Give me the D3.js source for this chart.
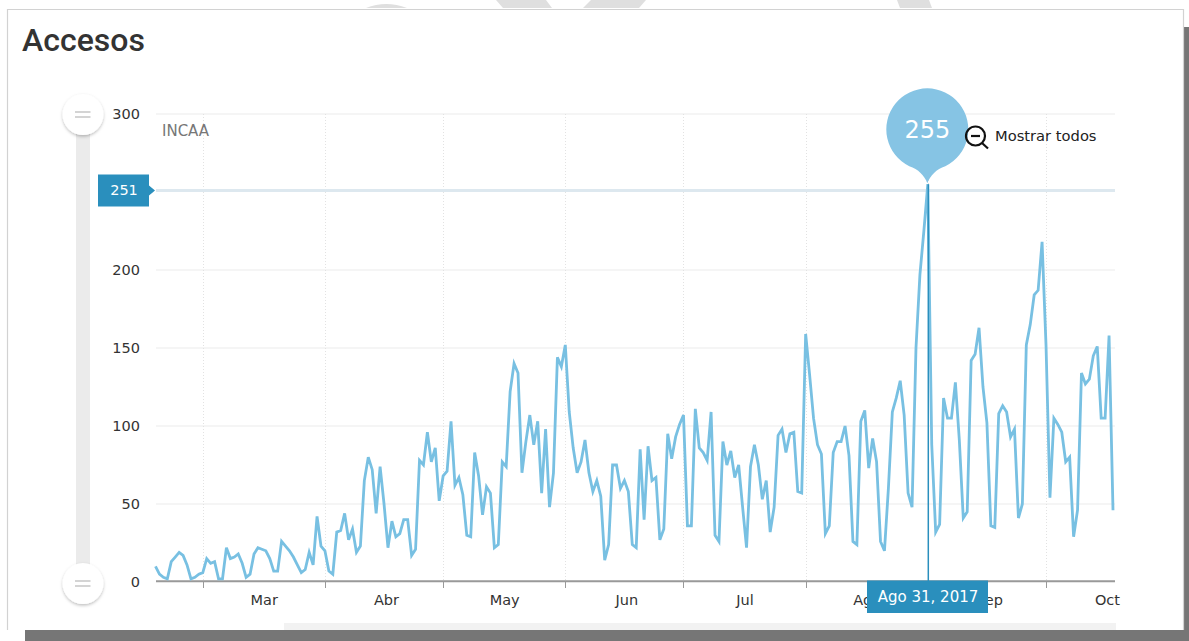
<!DOCTYPE html>
<html>
<head>
<meta charset="utf-8">
<title>Accesos</title>
<script src="https://cdn.jsdelivr.net/npm/d3@7"></script>
<style>
    html, body { margin: 0; padding: 0; background: #fff; overflow: hidden; }
    svg { display: block; }
    text { font-family: "DejaVu Sans", sans-serif; }
</style>
</head>
<body>
<script>
//daily values, first one is the evening of Feb 16 (local time of the source)
var accesos = [
    10,5,3,2,13,16,19,17,11,2,3,5,6,15,12,13,2,2,22,15,
    16,18,12,3,5,18,22,21,20,15,7,7,26,23,20,16,11,6,8,19,
    11,42,23,20,7,5,32,33,44,27,34,19,23,65,80,72,44,74,50,22,
    39,29,31,40,40,17,21,78,75,96,77,86,52,68,71,103,62,67,56,30,
    29,83,68,43,61,57,22,24,77,74,122,140,134,70,90,107,88,103,57,98,
    48,70,144,138,152,109,86,70,77,91,70,58,65,55,14,24,75,75,60,65,
    58,24,22,85,40,87,65,67,27,34,95,79,93,101,107,36,36,111,86,83,
    78,109,30,26,90,75,84,67,75,48,22,74,88,75,53,65,32,48,94,98,
    83,95,96,58,57,159,133,105,88,82,31,36,83,90,90,100,81,26,24,103,
    110,73,92,77,26,20,60,109,118,129,107,57,48,150,197,225,255,88,32,37,
    118,105,105,128,91,41,45,142,146,163,125,102,36,35,108,113,109,93,98,41,
    50,152,165,184,187,218,152,54,105,101,96,77,80,29,46,134,127,130,145,151,
    105,105,158,46
];
var monthLabels = ["Mar", "Abr", "May", "Jun", "Jul", "Ago", "Sep", "Oct"];
var shortMonths = ["Ene", "Feb", "Mar", "Abr", "May", "Jun", "Jul", "Ago", "Sep", "Oct", "Nov", "Dic"];
var yTicks = [0, 50, 100, 150, 200, 250, 300];
var yLabels = [0, 50, 100, 150, 200, 300];
var guideValue = 251;
var peakIndex = accesos.indexOf(d3.max(accesos));

//one date per value
var firstDay = new Date(2017, 1, 16, 21);
var days = accesos.map(function (d, i) {
    return d3.timeDay.offset(firstDay, i);
});

window.onload = function () {
    var w = 1189, h = 641;
    var left = 155.5, right = 1113, top = 114, bottom = 582;

    var container = d3.select("body")
        .append("svg")
        .attr("width", w)
        .attr("height", h);

    //scraps of the page behind the card, cut off at the top
    var scraps = [
        "M366,8 Q386,0 407,8 Z",
        "M496,0 L518,0 L546,0 L552,8 L503,8 Z",
        "M591,0 L646,0 L639,8 L583,8 Z",
        "M897,0 L929,0 L932,8 L900,8 Z"
    ];
    container.selectAll(".scrap")
        .data(scraps)
        .enter()
        .append("path")
        .attr("class", "scrap")
        .attr("d", function (d) { return d; })
        .style("fill", "#dfdfdf");

    //screenshot frame: dark bars right and bottom, card border
    container.append("rect")
        .attr("x", 1184).attr("y", 27)
        .attr("width", 5).attr("height", 614)
        .style("fill", "#767676");
    container.append("rect")
        .attr("x", 25).attr("y", 630)
        .attr("width", 1164).attr("height", 11)
        .style("fill", "#767676");
    container.append("path")
        .attr("d", "M7.5,630 V9.5 H1183.5 V630")
        .style("fill", "none")
        .style("stroke", "#d2d2d2")
        .style("stroke-width", 1.2);
    container.append("rect")
        .attr("x", 284).attr("y", 623)
        .attr("width", 832).attr("height", 7)
        .style("fill", "#f2f2f2");

    container.append("text")
        .attr("x", 22)
        .attr("y", 51)
        .style("font-family", "Roboto")
        .style("font-size", "32px")
        .style("font-weight", 500)
        .style("fill", "#333")
        .text("Accesos");

    //scales
    var x = d3.scaleTime()
        .range([left, right])
        .domain([days[0], days[days.length - 1]]);
    var y = d3.scaleLinear()
        .range([bottom, top])
        .domain([0, 300]);

    //grid, 250 has no line of its own in the picture
    var months = d3.timeMonth.range(days[0], days[days.length - 1]);
    container.selectAll(".hgrid")
        .data(yTicks.filter(function (d) { return d > 0 && d !== 250; }))
        .enter()
        .append("line")
        .attr("class", "hgrid")
        .attr("x1", 156).attr("x2", 1115)
        .attr("y1", function (d) { return y(d); })
        .attr("y2", function (d) { return y(d); })
        .style("stroke", "#ececec")
        .style("stroke-width", 1.2);
    container.selectAll(".vgrid")
        .data(months)
        .enter()
        .append("line")
        .attr("class", "vgrid")
        .attr("x1", function (d) { return Math.floor(x(d)) + 0.5; })
        .attr("x2", function (d) { return Math.floor(x(d)) + 0.5; })
        .attr("y1", top).attr("y2", bottom)
        .style("stroke", "#e2e2e2")
        .style("stroke-dasharray", "1,2");

    //slider on the left
    container.append("rect")
        .attr("x", 76).attr("y", top)
        .attr("width", 14).attr("height", bottom - top)
        .style("fill", "#ebebeb");

    var shadow = container.append("defs").append("filter")
        .attr("id", "handleShadow")
        .attr("x", "-30%").attr("y", "-30%")
        .attr("width", "160%").attr("height", "160%");
    shadow.append("feDropShadow")
        .attr("dx", 0).attr("dy", 1.5)
        .attr("stdDeviation", 1.5)
        .attr("flood-color", "#000")
        .attr("flood-opacity", 0.25);

    var handles = container.selectAll(".handle")
        .data([114.5, 583.5])
        .enter()
        .append("g")
        .attr("class", "handle")
        .attr("transform", function (d) { return "translate(83," + d + ")"; });
    handles.append("circle")
        .attr("r", 20.5)
        .attr("filter", "url(#handleShadow)")
        .style("fill", "#fff");
    handles.selectAll("line")
        .data([-2.5, 2.5])
        .enter()
        .append("line")
        .attr("x1", -8).attr("x2", 7.5)
        .attr("y1", function (d) { return d; })
        .attr("y2", function (d) { return d; })
        .style("stroke", "#bdbdbd")
        .style("stroke-width", 1.3);

    //guide at 251
    container.append("line")
        .attr("x1", 156).attr("x2", 1115)
        .attr("y1", y(guideValue)).attr("y2", y(guideValue))
        .style("stroke", "#dde8ef")
        .style("stroke-width", 3);

    //axes
    var yAxis = d3.axisLeft(y)
        .tickValues(yLabels)
        .tickSize(0)
        .tickPadding(0);
    var axisY = container.append("g")
        .attr("class", "axis")
        .attr("transform", "translate(140,0)")
        .call(yAxis);
    axisY.select(".domain").remove();
    axisY.selectAll("text")
        .style("font-family", "DejaVu Sans")
        .style("font-size", "14.5px")
        .style("fill", "#333");

    var xAxis = d3.axisBottom(x)
        .tickValues(months)
        .tickSize(7)
        .tickSizeOuter(0)
        .offset(0)
        .tickFormat(function (d, i) { return monthLabels[i]; });
    var axisX = container.append("g")
        .attr("class", "axis")
        .attr("transform", "translate(0,581.3)")
        .call(xAxis);
    axisX.select(".domain")
        .attr("d", "M156,0H1115")
        .style("stroke", "#999")
        .style("stroke-width", 2);
    axisX.selectAll(".tick line")
        .style("stroke", "#999")
        .style("shape-rendering", "crispEdges");
    //month names sit in the middle of the month, not on the tick
    axisX.selectAll(".tick text")
        .attr("dx", 61)
        .attr("y", 13)
        .style("font-family", "DejaVu Sans")
        .style("font-size", "14.5px")
        .style("fill", "#333");

    container.append("text")
        .attr("x", 162)
        .attr("y", 135.5)
        .style("font-size", "15px")
        .style("fill", "#777")
        .text("INCAA");

    //the series
    var line = d3.line()
        .x(function (d, i) { return x(days[i]); })
        .y(function (d) { return y(d); });
    container.append("path")
        .datum(accesos)
        .attr("class", "serie")
        .attr("d", line)
        .style("fill", "none")
        .style("stroke", "#78c0e2")
        .style("stroke-width", 2.8)
        .style("stroke-linejoin", "miter");

    //flag with the guide value
    var flagY = y(guideValue);
    container.append("path")
        .attr("d", "M98," + (flagY - 16) + "H149V" + (flagY - 5) + "L155," + flagY +
            "L149," + (flagY + 5) + "V" + (flagY + 16) + "H98Z")
        .style("fill", "#2a8fbd");
    container.append("text")
        .attr("x", 124)
        .attr("y", flagY + 5)
        .attr("text-anchor", "middle")
        .style("font-size", "14.5px")
        .style("fill", "#fff")
        .text(guideValue);

    //crosshair on the peak, balloon on top and date below
    var peakX = x(days[peakIndex]);
    var peakY = y(accesos[peakIndex]);
    container.append("line")
        .attr("x1", peakX + 0.5).attr("x2", peakX + 0.5)
        .attr("y1", peakY).attr("y2", bottom)
        .style("stroke", "#2a8fbd")
        .style("stroke-width", 1.5);

    var cx = peakX - 0.5, cy = peakY - 54.5;
    container.append("path")
        .attr("d", "M" + cx + "," + (peakY - 1) +
            "C" + (cx - 3) + "," + (peakY - 9) + " " + (cx - 9) + "," + (peakY - 15) + " " + (cx - 18) + "," + (peakY - 18) +
            "A41,41 0 1 1 " + (cx + 18) + "," + (peakY - 18) +
            "C" + (cx + 9) + "," + (peakY - 15) + " " + (cx + 3) + "," + (peakY - 9) + " " + cx + "," + (peakY - 1) + "Z")
        .style("fill", "#86c4e4");
    container.append("text")
        .attr("x", cx)
        .attr("y", cy + 8.5)
        .attr("text-anchor", "middle")
        .style("font-size", "24px")
        .style("fill", "#fff")
        .text(accesos[peakIndex]);

    container.append("rect")
        .attr("x", 867).attr("y", 580.5)
        .attr("width", 121).attr("height", 32.5)
        .style("fill", "#2a8fbd");
    var peakDay = days[peakIndex];
    container.append("text")
        .attr("x", 928)
        .attr("y", 602)
        .attr("text-anchor", "middle")
        .style("font-size", "15px")
        .style("fill", "#fff")
        .text(shortMonths[peakDay.getMonth()] + " " + peakDay.getDate() + ", " + peakDay.getFullYear());

    //zoom out icon and label
    var icon = container.append("g")
        .attr("transform", "translate(975.5,136)")
        .style("fill", "none")
        .style("stroke", "#111");
    icon.append("circle")
        .attr("r", 9.5)
        .style("stroke-width", 2.2);
    icon.append("line")
        .attr("x1", -4.5).attr("x2", 4.5)
        .attr("y1", 0).attr("y2", 0)
        .style("stroke-width", 2.2);
    icon.append("line")
        .attr("x1", 6.5).attr("x2", 12.5)
        .attr("y1", 7).attr("y2", 12.5)
        .style("stroke-width", 2.2);
    container.append("text")
        .attr("x", 995)
        .attr("y", 141)
        .style("font-size", "14.7px")
        .style("fill", "#222")
        .text("Mostrar todos");
};
</script>
</body>
</html>
